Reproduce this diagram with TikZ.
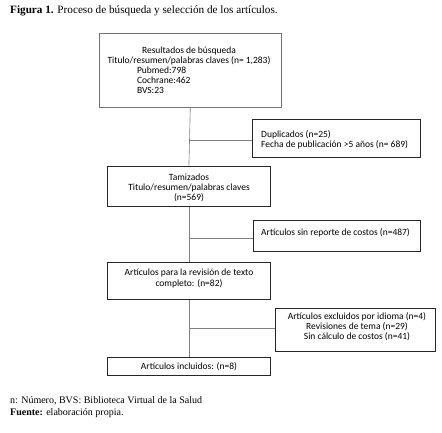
\documentclass[tikz,border=0pt]{standalone}
\usepackage{fontspec}
\setmainfont{Liberation Serif}
\newfontfamily\boxfont{Carlito}
\begin{document}
\begin{tikzpicture}[x=1pt,y=-1pt,
  gbox/.style={draw=black!55, line width=0.6pt, inner sep=0pt, anchor=north west, rectangle},
  kbox/.style={draw=black!85, line width=0.8pt, inner sep=0pt, anchor=north west, rectangle},
  btxt/.style={font=\boxfont\fontsize{9.5}{10.1}\selectfont, inner sep=0pt, align=center},
  ltxt/.style={font=\boxfont\fontsize{9.5}{10.1}\selectfont, inner sep=0pt, align=left, anchor=west},
  captxt/.style={font=\fontsize{10}{12}\selectfont, inner sep=0pt, anchor=west},
  conn/.style={draw=black!50, line width=0.6pt}]
\useasboundingbox (0,0) rectangle (442,433);
\fill[white] (0,0) rectangle (442,433);

\node[captxt] (title) at (10,11) {\fontsize{11.2}{13}\selectfont\textbf{Figura 1.} Proceso de búsqueda y selección de los artículos.};

% boxes
\node[gbox, minimum width=182pt, minimum height=74pt] (b1) at (99,33) {};
\node[kbox, minimum width=168pt, minimum height=38pt] (b2) at (252,119) {};
\node[kbox, minimum width=163pt, minimum height=40pt] (b3) at (107,166) {};
\node[kbox, minimum width=167pt, minimum height=31pt] (b4) at (253,220) {};
\node[kbox, minimum width=163pt, minimum height=37pt] (b5) at (107,262) {};
\node[kbox, minimum width=160pt, minimum height=43pt] (b6) at (275,308) {};
\node[kbox, minimum width=163pt, minimum height=18pt] (b7) at (107,357) {};

% texts
\node[btxt] (t1) at (189,70) {Resultados de búsqueda\\Titulo/resumen/palabras claves (n= 1,283)\\
  \makebox[104pt][l]{Pubmed:798}\\\makebox[104pt][l]{Cochrane:462}\\\makebox[104pt][l]{BVS:23}};
\node[ltxt] (t2) at (261,139.5) {Duplicados (n=25)\\Fecha de publicación {>}5 años (n= 689)};
\node[btxt] (t3) at (189,187.5) {Tamizados\\Titulo/resumen/palabras claves\\(n=569)};
\node[ltxt] (t4) at (261,233) {Artículos sin reporte de costos (n=487)};
\node[btxt] (t5) at (189,278.5) {Artículos para la revisión de texto\\completo: (n=82)};
\node[btxt] (t6) at (357,326.5) {Artículos excluidos por idioma (n=4)\\Revisiones de tema (n=29)\\Sin cálculo de costos (n=41)};
\node[btxt] (t7) at (189,367) {Artículos incluidos: (n=8)};

% connectors
\draw[conn] (b1.south) -- (b3.north);
\draw[conn] (b3.south) -- (b5.north);
\draw[conn] (b5.south) -- (b7.north);
\coordinate (j2) at (b1.south |- 0,140);
\coordinate (j4) at (b1.south |- 0,238);
\coordinate (j6) at (b1.south |- 0,328);
\draw[conn] (j2) -- (j2 -| b2.west);
\draw[conn] (j4) -- (j4 -| b4.west);
\draw[conn] (j6) -- (j6 -| b6.west);

\node[captxt] (n1) at (10,401) {n: Número, BVS: Biblioteca Virtual de la Salud};
\node[captxt] (n2) at (10,413) {\textbf{Fuente:} elaboración propia.};
\end{tikzpicture}
\end{document}
